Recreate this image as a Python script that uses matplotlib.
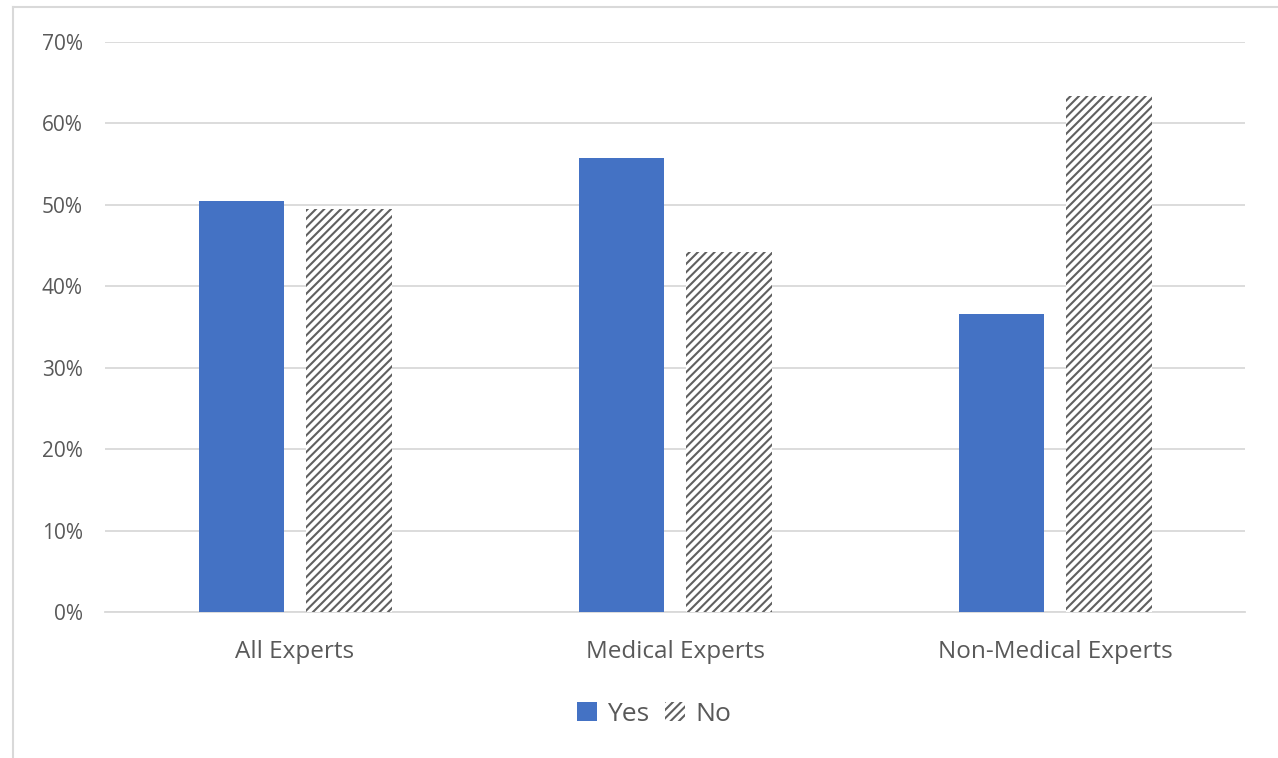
import numpy as np
import matplotlib
matplotlib.use("Agg")
import matplotlib.pyplot as plt
from matplotlib.lines import Line2D

# data
categories = ["All Experts", "Medical Experts", "Non-Medical Experts"]
yes_vals = [50.5, 55.8, 36.6]
no_vals = [49.5, 44.2, 63.4]
yticks = [0, 10, 20, 30, 40, 50, 60, 70]

plt.rcParams['font.family'] = ['Open Sans', 'DejaVu Sans']
plt.rcParams['hatch.linewidth'] = 1.5
plt.rcParams['hatch.color'] = '#606060'

fig = plt.figure(figsize=(12.78, 7.58), dpi=100)
ax = fig.add_axes([0.0822, 0.1926, 0.8920, 0.752])

x = np.arange(len(categories))
w = 0.224
ax.bar(x - 0.142, yes_vals, w, color="#4472C4", label="Yes", zorder=3)
ax.bar(x + 0.142, no_vals, w, facecolor="white", edgecolor="#606060",
       linewidth=0, hatch="////", label="No", zorder=3)

ax.set_xlim(-0.5, 2.5)
ax.set_ylim(0, 70)
ax.set_yticks(yticks)
ax.set_yticklabels([f"{t}%" for t in yticks])
ax.set_xticks(x)
ax.set_xticklabels(categories)
ax.tick_params(axis="both", length=0, colors="#595959")
ax.tick_params(axis="y", pad=16, labelsize=15)
ax.tick_params(axis="x", pad=20, labelsize=17.5)

ax.grid(axis="y", color="#d9d9d9", linewidth=1.3, zorder=0)
for s in ["top", "right", "left"]:
    ax.spines[s].set_visible(False)
ax.spines["bottom"].set_color("#d9d9d9")
ax.spines["bottom"].set_linewidth(1.3)

leg = fig.legend(loc="center", bbox_to_anchor=(0.512, 0.058), ncol=2, frameon=False,
                 fontsize=19, handlelength=0.75, handleheight=0.75, handletextpad=0.4,
                 columnspacing=0.6)
for t in leg.get_texts():
    t.set_color("#595959")

# outer chart frame
fig.add_artist(Line2D([12.5 / 1278, 12.5 / 1278], [0, 1 - 7 / 758],
                      transform=fig.transFigure, color="#d9d9d9", linewidth=1.5))
fig.add_artist(Line2D([12.5 / 1278, 1], [1 - 7 / 758, 1 - 7 / 758],
                      transform=fig.transFigure, color="#d9d9d9", linewidth=1.5))

fig.savefig("out.png", dpi=100)
